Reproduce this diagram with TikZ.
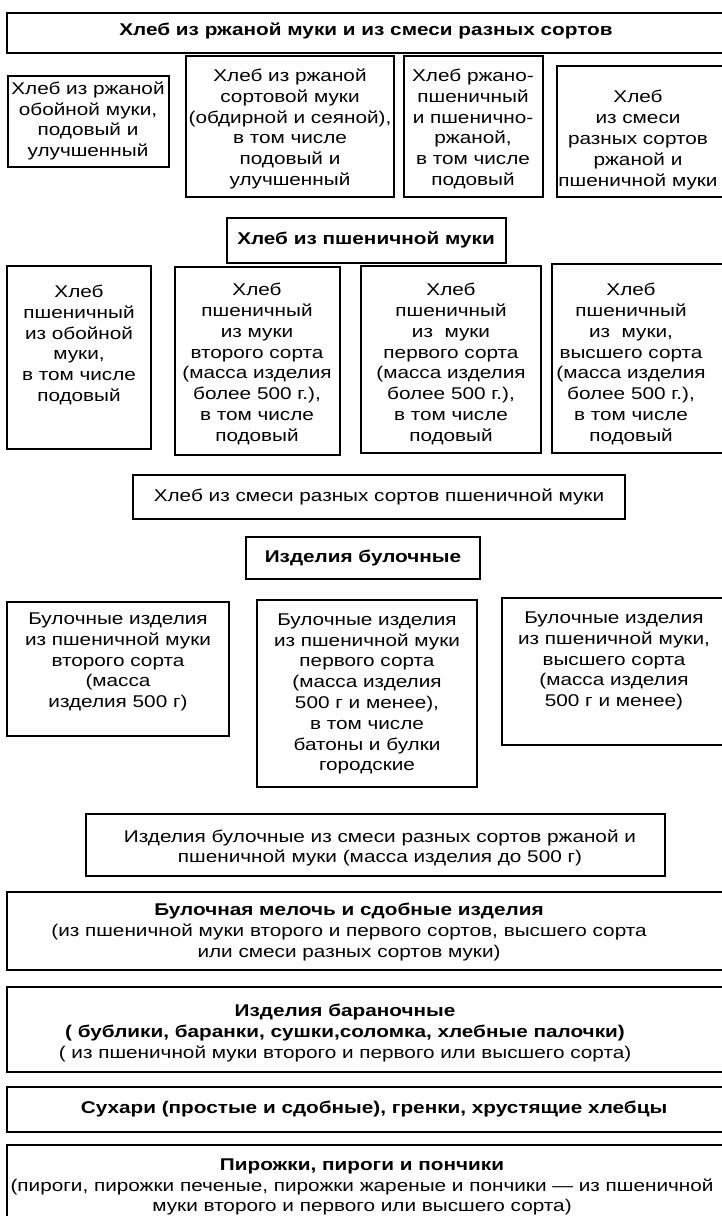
\documentclass[tikz,border=0pt]{standalone}
\usepackage{fontspec}
\setmainfont[FakeStretch=1.22]{Liberation Sans}
\newcommand{\boxfont}{\fontsize{17}{20.8}\selectfont}

\tikzset{
    box/.style={draw=black, line width=1.6pt},
    txt/.style={align=center, inner sep=0pt, font=\boxfont},
    head/.style={txt, font=\boxfont\bfseries},
}

\begin{document}
\begin{tikzpicture}[x=1pt, y=-1pt]
        \clip (0, 0) rectangle (722, 1216);
        \fill[white] (0, 0) rectangle (722, 1216);
        % rye bread
        \foreach \xa/\ya/\xb/\yb in {7/13/730/53, 8/76/169/167, 186/56/394/197, 404/56/543/197, 557/66/730/197}{
            \draw[box] (\xa, \ya) rectangle (\xb, \yb);
        }
        \node[head] (rye) at (366, 31) {Хлеб из ржаной муки и из смеси разных сортов};
        \node[txt] (ryeWall) at (88, 121) {Хлеб из ржаной\\обойной муки,\\подовый и\\улучшенный};
        \node[txt] (ryeSort) at (290, 129) {Хлеб из ржаной\\сортовой муки\\(обдирной и сеяной),\\в том числе\\подовый и\\улучшенный};
        \node[txt] (ryeWheat) at (473, 129) {Хлеб ржано-\\пшеничный\\и пшенично-\\ржаной,\\в том числе\\подовый};
        \node[txt] (ryeMix) at (638, 140) {Хлеб\\из смеси\\разных сортов\\ржаной и\\пшеничной муки};
        % wheat bread
        \draw[box] (227, 218) rectangle (506, 263);
        \node[head] (wheat) at (366, 240) {Хлеб из пшеничной муки};
        \foreach \xa/\ya/\xb/\yb in {7/266/151/449, 175/267/340/455, 361/266/541/453, 552/264/730/453}{
            \draw[box] (\xa, \ya) rectangle (\xb, \yb);
        }
        \node[txt] (wheatWall) at (79, 345) {Хлеб\\пшеничный\\из обойной\\муки,\\в том числе\\подовый};
        \node[txt] (wheatSecond) at (257, 364) {Хлеб\\пшеничный\\из муки\\второго сорта\\(масса изделия\\более 500 г.),\\в том числе\\подовый};
        \node[txt] (wheatFirst) at (451, 364) {Хлеб\\пшеничный\\из~~муки\\первого сорта\\(масса изделия\\более 500 г.),\\в том числе\\подовый};
        \node[txt] (wheatTop) at (631, 364) {Хлеб\\пшеничный\\из~~муки,\\высшего сорта\\(масса изделия\\более 500 г.),\\в том числе\\подовый};
        \draw[box] (133, 475) rectangle (625, 519);
        \node[txt] (wheatMix) at (379, 497) {Хлеб из смеси разных сортов пшеничной муки};
        % buns
        \draw[box] (246, 537) rectangle (480, 579);
        \node[head] (buns) at (363, 558) {Изделия булочные};
        \foreach \xa/\ya/\xb/\yb in {7/602/229/736, 257/600/477/787, 502/598/730/745}{
            \draw[box] (\xa, \ya) rectangle (\xb, \yb);
        }
        \node[txt] (bunSecond) at (118, 662) {Булочные изделия\\из пшеничной муки\\второго сорта\\(масса\\изделия 500 г)};
        \node[txt] (bunFirst) at (367, 694) {Булочные изделия\\из пшеничной муки\\первого сорта\\(масса изделия\\500 г и менее),\\в том числе\\батоны и булки\\городские};
        \node[txt] (bunTop) at (614, 661) {Булочные изделия\\из пшеничной муки,\\высшего сорта\\(масса изделия\\500 г и менее)};
        \draw[box] (86, 814) rectangle (665, 876);
        \node[txt] (bunMix) at (380, 848) {Изделия булочные из смеси разных сортов ржаной и\\пшеничной муки (масса изделия до 500 г)};
        % other groups
        \foreach \ya/\yb in {892/970, 987/1072, 1087/1132, 1145/1230}{
            \draw[box] (7, \ya) rectangle (730, \yb);
        }
        \node[txt] (small) at (349, 932) {\textbf{Булочная мелочь и сдобные изделия}\\(из пшеничной муки второго и первого сортов, высшего сорта\\или смеси разных сортов муки)};
        \node[txt] (rings) at (345, 1033) {\textbf{Изделия бараночные}\\\textbf{( бублики, баранки, сушки,соломка, хлебные палочки)}\\( из пшеничной муки второго и первого или высшего сорта)};
        \node[head] (rusks) at (374, 1109) {Сухари (простые и сдобные), гренки, хрустящие хлебцы};
        \node[txt] (pies) at (362, 1187) {\textbf{Пирожки, пироги и пончики}\\(пироги, пирожки печеные, пирожки жареные и пончики — из пшеничной\\муки второго и первого или высшего сорта)};
    \end{tikzpicture}
\end{document}
